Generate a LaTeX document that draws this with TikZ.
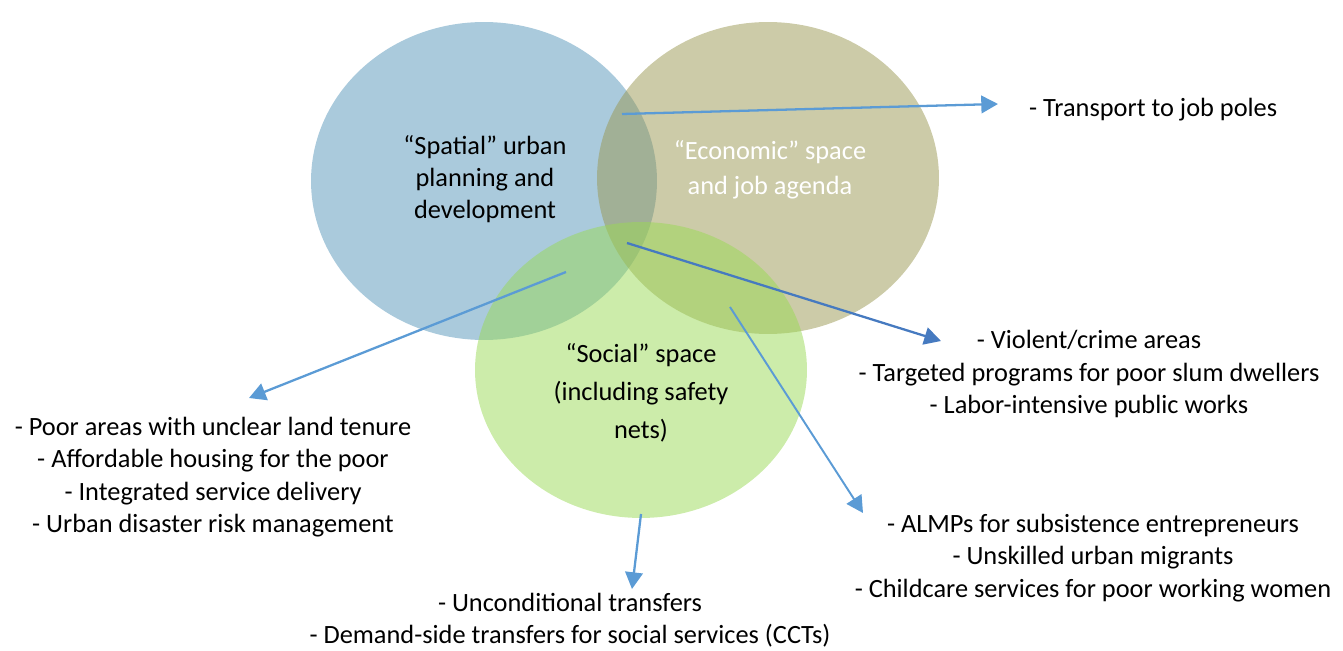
\documentclass[tikz,border=0pt]{standalone}
\usepackage{fontspec}
\setmainfont{Carlito}
\usetikzlibrary{shapes.geometric, arrows.meta, positioning}
\definecolor{spatialblue}{RGB}{85,149,185}
\definecolor{econolive}{RGB}{153,151,81}
\definecolor{socialgreen}{RGB}{153,217,85}
\definecolor{arrowblue}{RGB}{91,155,213}
\definecolor{arrowdark}{RGB}{70,122,192}

\begin{document}
\begin{tikzpicture}[x=0.02cm, y=-0.02cm,
  blob/.style={ellipse, inner sep=0pt, fill opacity=0.5},
  itemtext/.style={align=center, font=\fontsize{15}{18.4}\selectfont},
  link/.style={draw=arrowblue, line width=1.3pt, -{Triangle[length=9.5pt,width=10pt]}}]
\useasboundingbox (0,0) rectangle (1343,651);

% the three spaces
\node[blob, fill=spatialblue, minimum width=6.92cm, minimum height=6.36cm] (spatial) at (484,181) {};
\node[blob, fill=econolive, minimum width=6.84cm, minimum height=6.24cm] (economic) at (768,178) {};
\node[blob, fill=socialgreen, minimum width=6.64cm, minimum height=5.92cm] (social) at (641,370) {};

\node[itemtext] (spatialtext) at (485,179) {“Spatial” urban\\planning and\\development};
\node[itemtext, text=white, font=\fontsize{15}{19.9}\selectfont] (economictext) at (770,170) {“Economic” space\\and job agenda};
\node[itemtext, font=\fontsize{15}{21.6}\selectfont] (socialtext) at (641,393) {“Social” space\\(including safety\\nets)};

% policy lists
\node[itemtext, anchor=west] (transport) at (1023,110) {- Transport to job poles};
\node[itemtext] (violent) at (1089,374) {- Violent/crime areas\\- Targeted programs for poor slum dwellers\\- Labor-intensive public works};
\node[itemtext] (poorareas) at (213,477) {- Poor areas with unclear land tenure\\- Affordable housing for the poor\\- Integrated service delivery\\- Urban disaster risk management};
\node[itemtext] (transfers) at (570,620) {- Unconditional transfers\\- Demand-side transfers for social services (CCTs)};
\node[itemtext] (almps) at (1093,558) {- ALMPs for subsistence entrepreneurs\\- Unskilled urban migrants\\- Childcare services for poor working women};

% arrows
\coordinate (jobstart) at (622,114);
\coordinate (jobtip) at (998,104);
\coordinate (crimestart) at (627,243);
\coordinate (crimetip) at (941,341);
\coordinate (landstart) at (566,272);
\coordinate (landtip) at (249,398);
\coordinate (almpstart) at (730,307);
\coordinate (almptip) at (863,513);
\coordinate (cashstart) at (641,514);
\coordinate (cashtip) at (632,589);

\draw[link] (jobstart) -- (jobtip);
\draw[link, draw=arrowdark] (crimestart) -- (crimetip);
\draw[link] (landstart) -- (landtip);
\draw[link, line width=1.1pt] (almpstart) -- (almptip);
\draw[link] (cashstart) -- (cashtip);
\end{tikzpicture}
\end{document}
